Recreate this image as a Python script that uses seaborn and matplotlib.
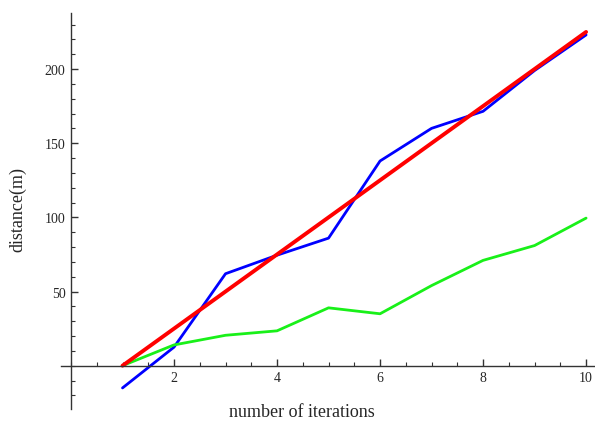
import pandas as pd
import matplotlib
matplotlib.use("Agg")
import matplotlib.pyplot as plt
from matplotlib.ticker import MultipleLocator
import seaborn as sns

# Data
iterations = [1, 2, 3, 4, 5, 6, 7, 8, 9, 10]
blue_dist = [-15, 12.5, 62, 74.5, 86, 138, 160, 171.5, 199, 223]
green_dist = [0, 14, 20.5, 23.5, 39, 35, 54, 71, 81, 99.5]
red_dist = [0, 25, 50, 75, 100, 125, 150, 175, 200, 225]

df = pd.DataFrame({
    "iteration": iterations * 3,
    "distance": blue_dist + green_dist + red_dist,
    "series": ["blue"] * 10 + ["green"] * 10 + ["red"] * 10,
})

sns.set_style("white")
plt.rcParams["font.family"] = ["Liberation Serif", "DejaVu Serif"]

fig = plt.figure(figsize=(5.95, 4.27), dpi=100)
ax = fig.add_axes([0.102, 0.0405, 0.896, 0.9275])

colors = {"blue": "#0000ff", "green": "#19f019", "red": "#ff0000"}
widths = {"blue": 2.0, "green": 2.0, "red": 2.8}
for name in ["blue", "green", "red"]:
    sub = df[df["series"] == name]
    sns.lineplot(data=sub, x="iteration", y="distance", color=colors[name],
                 linewidth=widths[name], ax=ax, legend=False)

ax.set_xlim(-0.2, 10.15)
ax.set_ylim(-29, 238)

# Mathematica-style axes crossing at origin
ax.spines["left"].set_position(("data", 0))
ax.spines["bottom"].set_position(("data", 0))
ax.spines["top"].set_visible(False)
ax.spines["right"].set_visible(False)
for s in ["left", "bottom"]:
    ax.spines[s].set_color("#333333")
    ax.spines[s].set_linewidth(1.0)

ax.xaxis.set_major_locator(MultipleLocator(2))
ax.xaxis.set_minor_locator(MultipleLocator(0.5))
ax.yaxis.set_major_locator(MultipleLocator(50))
ax.yaxis.set_minor_locator(MultipleLocator(10))
ax.set_xticks([2, 4, 6, 8, 10])
ax.set_yticks([50, 100, 150, 200])
ax.tick_params(which="both", bottom=True, left=True, top=False, right=False)
ax.tick_params(which="major", direction="in", length=5, width=1, color="#333333",
               labelsize=10, pad=4)
ax.tick_params(which="minor", direction="in", length=3, width=0.8, color="#333333")

ax.set_xlabel("")
ax.set_ylabel("")
fig.text(0.507, 0.035, "number of iterations", ha="center", va="center", fontsize=13)
fig.text(0.03, 0.51, "distance(m)", ha="center", va="center", rotation=90, fontsize=13)

fig.savefig("out.png", dpi=100)
